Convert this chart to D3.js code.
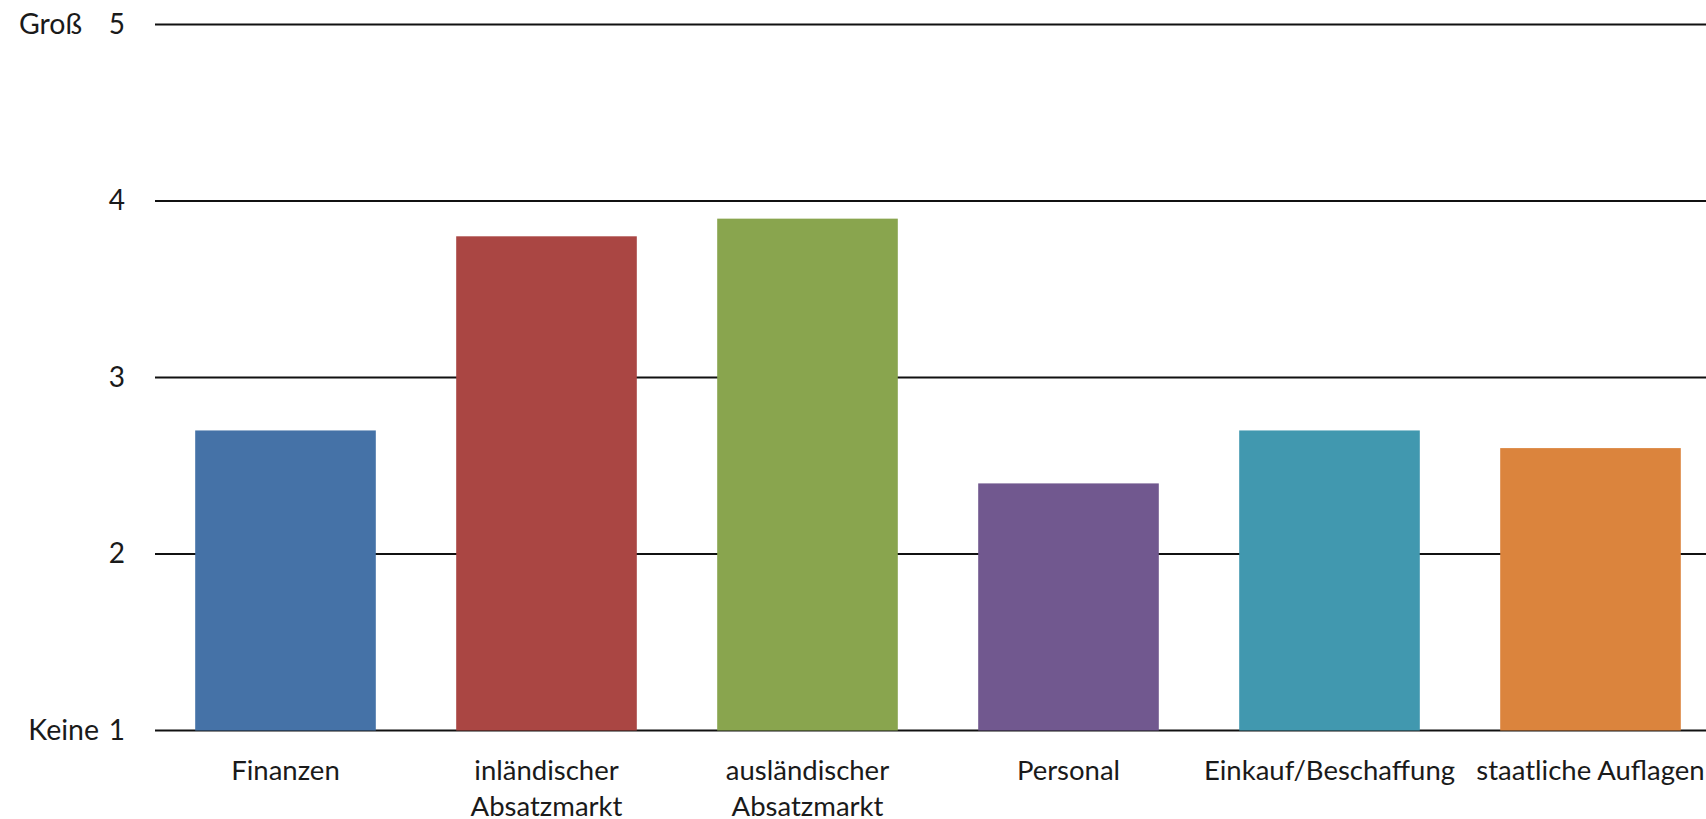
<!DOCTYPE html>
<html>
<head>
<meta charset="utf-8">
<script src="https://cdn.jsdelivr.net/npm/d3@7"></script>
<style>
  body { margin: 0; background: #fff; overflow: hidden; }
  text { font-family: Lato, "Noto Sans", sans-serif; fill: #1a1a1a; }
</style>
</head>
<body>
<div class="container"></div>
<script>
// data
var categories = ["Finanzen", "inländischer Absatzmarkt", "ausländischer Absatzmarkt",
                  "Personal", "Einkauf/Beschaffung", "staatliche Auflagen"];
var label_lines = [["Finanzen"], ["inländischer", "Absatzmarkt"], ["ausländischer", "Absatzmarkt"],
                   ["Personal"], ["Einkauf/Beschaffung"], ["staatliche Auflagen"]];
var values = [2.7, 3.8, 3.9, 2.4, 2.7, 2.6];
var colors = ["#4572a7", "#aa4643", "#89a54e", "#71588f", "#4198af", "#db843d"];
var y_ticks = [1, 2, 3, 4, 5];
var y_words = {1: "Keine", 5: "Groß"};

var W = 1706, H = 819;
var left = 155;

var svg = d3.select("div.container").append("svg")
    .attr("width", W)
    .attr("height", H);

var x_scale = d3.scaleBand()
    .domain(categories)
    .range([left, left + 6 * 261])
    .paddingInner(0.308)
    .paddingOuter(0.154);

var y_scale = d3.scaleLinear()
    .domain([1, 5])
    .range([730.5, 24.5]);

// gridlines
svg.append("g")
    .selectAll("line")
    .data(y_ticks)
    .enter().append("line")
    .attr("x1", left)
    .attr("x2", W)
    .attr("y1", function(d) { return y_scale(d); })
    .attr("y2", function(d) { return y_scale(d); })
    .attr("stroke", "#111")
    .attr("stroke-width", 2);

// y tick labels
var yax = svg.append("g")
    .attr("transform", "translate(" + (left - 30) + ",0)")
    .call(d3.axisLeft(y_scale).tickValues(y_ticks).tickSize(0).tickFormat(d3.format("d")));
yax.select(".domain").remove();
yax.selectAll("text")
    .attr("x", 0)
    .attr("font-size", 28)
    .style("font-family", "Lato, 'Noto Sans', sans-serif")
    .attr("fill", "#1a1a1a");

svg.append("g")
    .selectAll("text")
    .data(y_ticks.filter(function(d) { return y_words[d]; }))
    .enter().append("text")
    .attr("x", function(d) { return d == 5 ? 82 : 99; })
    .attr("y", function(d) { return y_scale(d); })
    .attr("dy", "0.34em")
    .attr("text-anchor", "end")
    .attr("font-size", 28.5)
    .text(function(d) { return y_words[d]; });

// bars
svg.append("g")
    .selectAll("rect")
    .data(values)
    .enter().append("rect")
    .attr("x", function(d, i) { return x_scale(categories[i]); })
    .attr("width", x_scale.bandwidth())
    .attr("y", function(d) { return y_scale(d); })
    .attr("height", function(d) { return y_scale(1) - y_scale(d); })
    .attr("fill", function(d, i) { return colors[i]; });

// category labels
var lab = svg.append("g")
    .selectAll("text")
    .data(categories)
    .enter().append("text")
    .attr("x", function(d) { return x_scale(d) + x_scale.bandwidth() / 2; })
    .attr("y", 780)
    .attr("text-anchor", "middle")
    .attr("font-size", 27.5);

lab.selectAll("tspan")
    .data(function(d, i) { return label_lines[i]; })
    .enter().append("tspan")
    .attr("x", function() { var p = this.parentNode; return p.getAttribute("x"); })
    .attr("dy", function(d, j) { return j == 0 ? 0 : 36; })
    .text(function(d) { return d; });
</script>
</body>
</html>
